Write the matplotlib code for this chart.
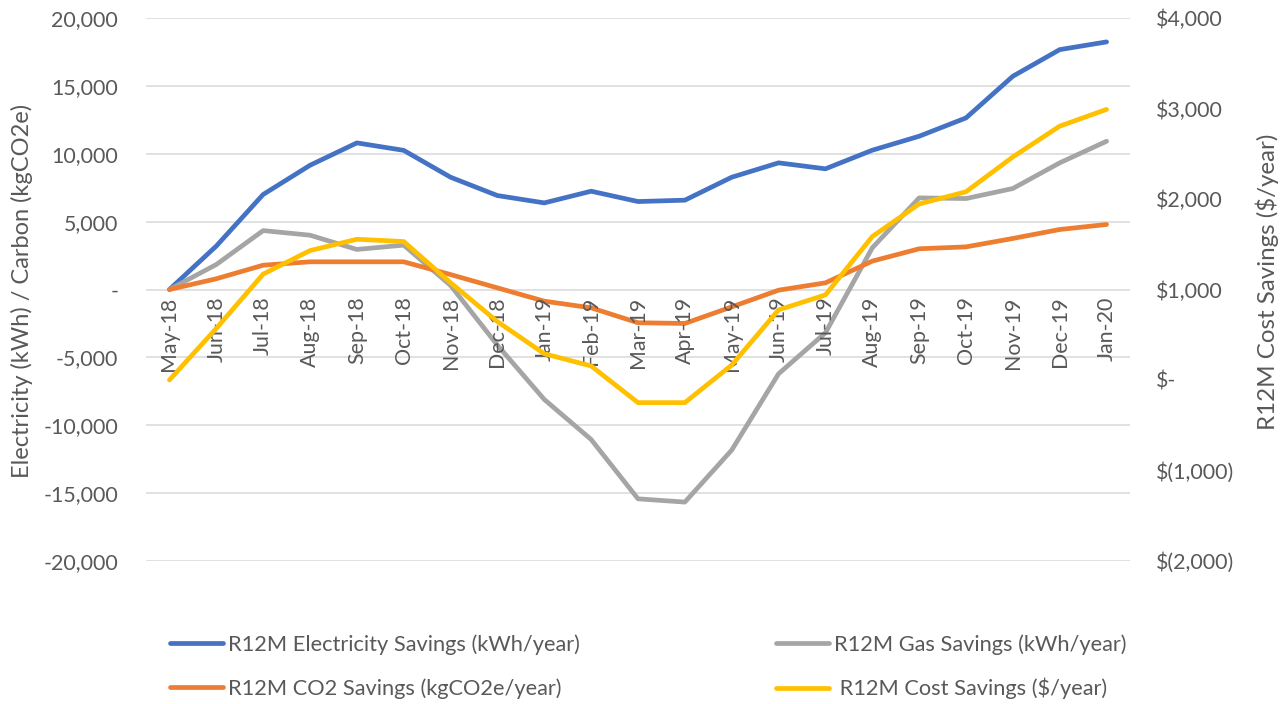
import matplotlib
matplotlib.use("Agg")
import matplotlib.pyplot as plt
from matplotlib.ticker import FuncFormatter, MultipleLocator
import numpy as np

months = ['May-18','Jun-18','Jul-18','Aug-18','Sep-18','Oct-18','Nov-18','Dec-18',
          'Jan-19','Feb-19','Mar-19','Apr-19','May-19','Jun-19','Jul-19','Aug-19',
          'Sep-19','Oct-19','Nov-19','Dec-19','Jan-20']
elec = [0, 3200, 7000, 9150, 10800, 10250, 8270, 6920, 6380, 7240, 6480, 6580,
        8270, 9330, 8890, 10260, 11290, 12640, 15710, 17670, 18240]
gas = [0, 1840, 4340, 4000, 2950, 3270, 300, -4100, -8100, -11050, -15420, -15660,
       -11830, -6210, -3190, 3070, 6750, 6700, 7440, 9330, 10920]
co2 = [0, 790, 1790, 2040, 2040, 2040, 1100, 120, -860, -1350, -2450, -2500,
       -1280, -50, 490, 2090, 3000, 3140, 3760, 4420, 4790]
cost = [0, 570, 1170, 1430, 1555, 1530, 1075, 645, 290, 155, -250, -250,
        165, 775, 940, 1585, 1945, 2080, 2465, 2805, 2990]

labels = ['R12M Electricity Savings (kWh/year)', 'R12M Gas Savings (kWh/year)',
          'R12M CO2 Savings (kgCO2e/year)', ' R12M Cost Savings ($/year)']
colors = ['#4472C4', '#A5A5A5', '#ED7D31', '#FFC000']

plt.rcParams['font.family'] = ['Lato', 'DejaVu Sans']
TXT = '#595959'
W, H = 1286, 704
fig = plt.figure(figsize=(W/100, H/100), dpi=100)
L, R, T, B = 146, 1130, 18, 561
ax = fig.add_axes([L/W, 1-B/H, (R-L)/W, (B-T)/H])
ax2 = ax.twinx()

x = np.arange(len(months))
lw = 3.4
kw = dict(lw=lw, solid_capstyle='round', solid_joinstyle='round', zorder=3)
h1, = ax.plot(x, elec, color=colors[0], **kw)
h2, = ax.plot(x, gas, color=colors[1], **kw)
h3, = ax.plot(x, co2, color=colors[2], **kw)
h4, = ax2.plot(x, cost, color=colors[3], **kw)

ax.set_xlim(-0.5, len(months)-0.5)
ax.set_ylim(-20000, 20000)
ax2.set_ylim(-2000, 4000)
ax.yaxis.set_major_locator(MultipleLocator(5000))
ax2.yaxis.set_major_locator(MultipleLocator(1000))

def lfmt(v, p):
    if abs(v) < 1e-9:
        return '-'
    return f'{v:,.0f}'

def rfmt(v, p):
    if abs(v) < 1e-9:
        return '$-'
    if v < 0:
        return f'$({abs(v):,.0f})'
    return f'${v:,.0f}'

ax.yaxis.set_major_formatter(FuncFormatter(lfmt))
ax2.yaxis.set_major_formatter(FuncFormatter(rfmt))
ax.grid(axis='y', color='#D9D9D9', lw=1.1, zorder=0)
ax.set_axisbelow(True)
for a in (ax, ax2):
    for s in a.spines.values():
        s.set_visible(False)
ax.tick_params(axis='y', length=0, pad=20, labelsize=15.4, labelcolor=TXT)
ax2.tick_params(axis='y', length=0, pad=19, labelsize=15.4, labelcolor=TXT)
ax.set_xticks([])
ax2.set_xticks([])

# category labels next to the zero axis
for i, m in enumerate(months):
    ax.annotate(m, xy=(x[i], 0), xytext=(0, -5), textcoords='offset points',
                rotation=90, ha='center', va='top', fontsize=15.4, color=TXT)

fig.text(22/W, 1-291/H, 'Electricity (kWh) / Carbon (kgCO2e)', rotation=90,
         ha='center', va='center', fontsize=17, color=TXT)
fig.text(1267/W, 1-282/H, 'R12M Cost Savings ($/year)', rotation=90,
         ha='center', va='center', fontsize=17.4, color=TXT)

legkw = dict(frameon=False, fontsize=15.7, handlelength=2.45, handletextpad=0.22,
             labelspacing=1.07, borderpad=0, borderaxespad=0, loc='upper left',
             labelcolor=TXT)
leg1 = fig.legend([h1, h3], [labels[0], labels[2]], bbox_to_anchor=(170/W, 1-634/H), **legkw)
leg2 = fig.legend([h2, h4], [labels[1], labels[3]], bbox_to_anchor=(776/W, 1-634/H), **legkw)

fig.savefig('out.png', dpi=100)
